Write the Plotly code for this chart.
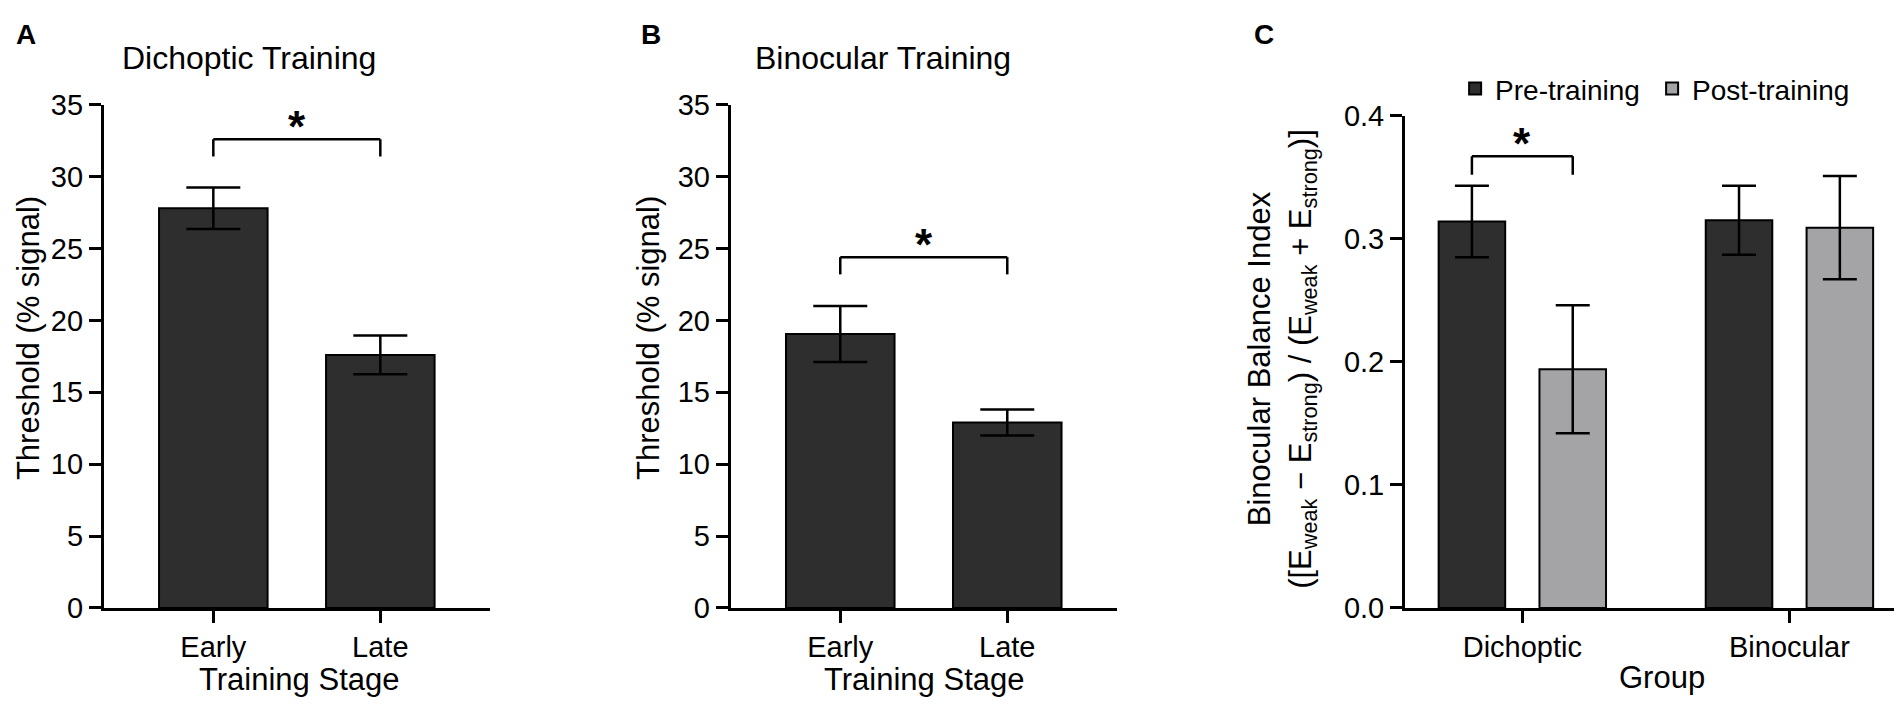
import plotly.graph_objects as go

# ── data ─────────────────────────────────────────────────────────────────────
stages = ["Early", "Late"]
dichoptic_thr = [27.8, 17.6]
dichoptic_sem = [1.45, 1.35]
binocular_thr = [19.05, 12.9]
binocular_sem = [1.95, 0.9]

groups = ["Dichoptic", "Binocular"]
pre_bbi = [0.314, 0.315]
pre_sem = [0.029, 0.028]
post_bbi = [0.194, 0.309]
post_sem = [0.052, 0.042]

# significance brackets: (top, bottom of the drops)
sig_a = (32.6, 31.4)
sig_b = (24.4, 23.2)
sig_c = (0.367, 0.352)

# ── style ────────────────────────────────────────────────────────────────────
FONT = "Liberation Sans, Arial, sans-serif"
DARK = "#2e2e2e"
GREY = "#a4a4a7"
W, H = 1902, 705
BARGAP = 0.245

# the page lands slightly shifted/squeezed in the photo; positions below are
# given in photo pixels and mapped back onto the figure's paper
OX, KX = 6.0, 0.9937
OY, KY = 20.6, 0.962


def px(x):
    return ((x - OX) / KX) / W


def py(y):
    return 1 - ((y - OY) / KY) / H


fig = go.Figure()

# ① Dichoptic training
fig.add_trace(go.Bar(
    x=stages, y=dichoptic_thr, width=0.65,
    marker=dict(color=DARK, line=dict(color="black", width=2)),
    error_y=dict(type="data", array=dichoptic_sem, color="black", thickness=2.5, width=27),
    xaxis="x", yaxis="y", showlegend=False,
))

# ② Binocular training
fig.add_trace(go.Bar(
    x=stages, y=binocular_thr, width=0.65,
    marker=dict(color=DARK, line=dict(color="black", width=2)),
    error_y=dict(type="data", array=binocular_sem, color="black", thickness=2.5, width=27),
    xaxis="x2", yaxis="y2", showlegend=False,
))

# ③ Binocular balance index
fig.add_trace(go.Bar(
    x=groups, y=pre_bbi, name="Pre-training",
    marker=dict(color=DARK, line=dict(color="black", width=2)),
    error_y=dict(type="data", array=pre_sem, color="black", thickness=2.5, width=17),
    xaxis="x3", yaxis="y3",
))
fig.add_trace(go.Bar(
    x=groups, y=post_bbi, name="Post-training",
    marker=dict(color=GREY, line=dict(color="black", width=2)),
    error_y=dict(type="data", array=post_sem, color="black", thickness=2.5, width=17),
    xaxis="x3", yaxis="y3",
))


def bracket(xref, yref, x0, x1, sig):
    top, low = sig
    line = dict(color="black", width=2.5)
    for (a, b, c, d) in [(x0, low, x0, top), (x0, top, x1, top), (x1, top, x1, low)]:
        fig.add_shape(type="line", xref=xref, yref=yref,
                      x0=a, y0=b, x1=c, y1=d, line=line)
    fig.add_annotation(xref=xref, yref=yref, x=(x0 + x1) / 2, y=top,
                       text="<b>*</b>", showarrow=False, yanchor="bottom",
                       yshift=-14, font=dict(size=44, color="black", family=FONT))


off = (1 - BARGAP) / 4
bracket("x", "y", 0, 1, sig_a)
bracket("x2", "y2", 0, 1, sig_b)
bracket("x3", "y3", -off, off, sig_c)

axis_common = dict(
    showline=True, linecolor="black", linewidth=2.5,
    ticks="outside", ticklen=12, tickwidth=2.5, tickcolor="black",
    showgrid=False, zeroline=False,
    tickfont=dict(size=29, color="black", family=FONT),
)

ydom_ab = [py(609), py(102)]
ydom_c = [py(609), py(113)]

fig.update_layout(
    width=W, height=H,
    margin=dict(l=0, r=0, t=0, b=0),
    paper_bgcolor="white", plot_bgcolor="white",
    barmode="group", bargap=BARGAP, bargroupgap=0.34,
    font=dict(family=FONT, color="black"),
    xaxis=dict(domain=[px(101), px(485)], range=[-0.657, 1.657], anchor="y", **axis_common),
    yaxis=dict(domain=ydom_ab, range=[0, 35], dtick=5, anchor="x", **axis_common),
    xaxis2=dict(domain=[px(724), px(1108)], range=[-0.657, 1.657], anchor="y2", **axis_common),
    yaxis2=dict(domain=ydom_ab, range=[0, 35], dtick=5, anchor="x2", **axis_common),
    xaxis3=dict(domain=[px(1394), px(1893)], range=[-0.44, 1.44], anchor="y3", **axis_common),
    yaxis3=dict(domain=ydom_c, range=[0, 0.4], dtick=0.1, tickformat=".1f", anchor="x3", **axis_common),
    legend=dict(orientation="h", x=px(1444), y=py(86), xanchor="left", yanchor="middle",
                font=dict(size=28, family=FONT, color="black"),
                entrywidth=152, entrywidthmode="pixels", bgcolor="rgba(0,0,0,0)"),
)

# titles, axis titles, panel letters
texts = [
    ("<b>A</b>", 24, 24, 0, 28),
    ("<b>B</b>", 645, 24, 0, 28),
    ("<b>C</b>", 1254, 24, 0, 28),
    ("Dichoptic Training", 245, 55, 0, 32),
    ("Binocular Training", 875, 55, 0, 32),
    ("Threshold (% signal)", 27, 337, -90, 31),
    ("Threshold (% signal)", 643, 337, -90, 31),
    ("Binocular Balance Index<br>([E<sub>weak</sub> − E<sub>strong</sub>) / "
     "(E<sub>weak</sub> + E<sub>strong</sub>)]", 1272, 358, -90, 31),
    ("Training Stage", 295, 681, 0, 31),
    ("Training Stage", 916, 681, 0, 31),
    ("Group", 1650, 679, 0, 31),
]
for t, x, y, ang, size in texts:
    fig.add_annotation(xref="paper", yref="paper", x=px(x), y=min(py(y), 0.985), text=t,
                       showarrow=False, textangle=ang, xanchor="center", yanchor="middle",
                       font=dict(size=size, color="black", family=FONT))

fig.write_html("out.html")
